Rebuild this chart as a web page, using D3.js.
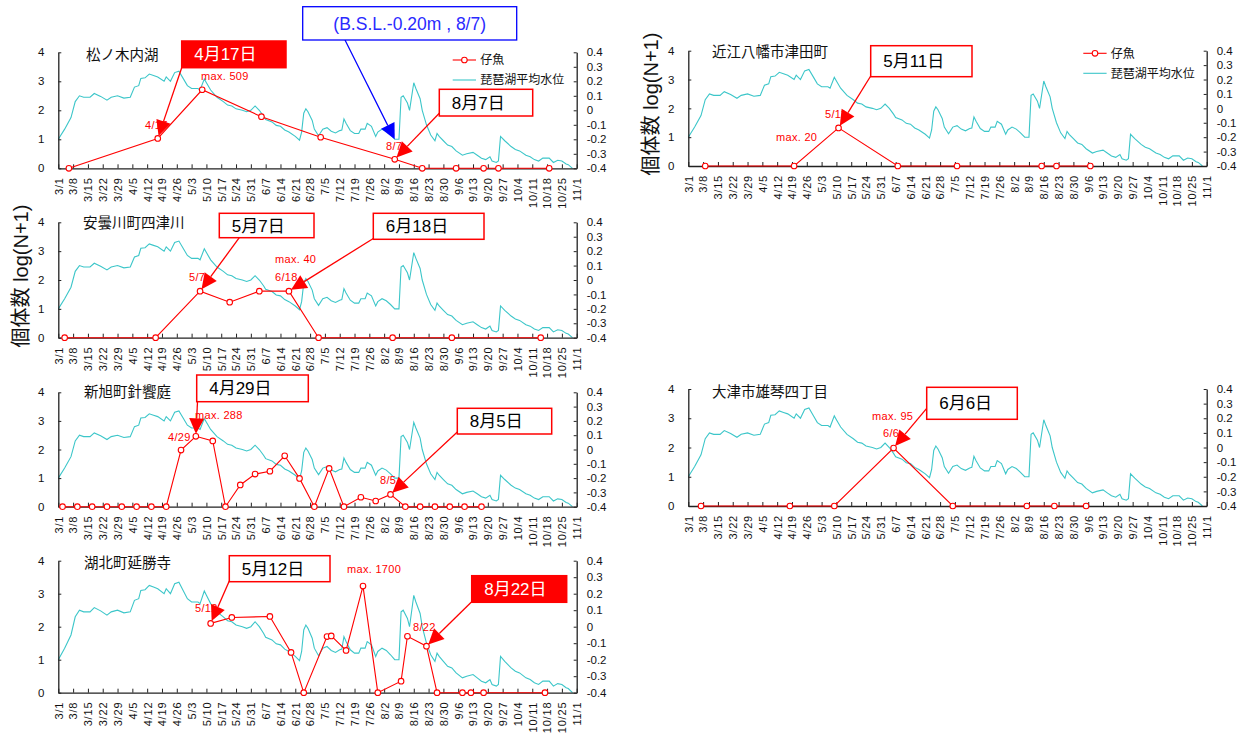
<!DOCTYPE html>
<html>
<head>
<meta charset="utf-8">
<script src="https://cdn.jsdelivr.net/npm/d3@7"></script>
<style>
  body { margin: 0; background: #fff; }
  svg { display: block; font-family: "Liberation Sans", Arial, "Noto Sans CJK JP", sans-serif; }
</style>
</head>
<body>
<svg id="chart" width="1252" height="737"></svg>
<script>
// ---- data -----------------------------------------------------------------
const weekTicks = ["3/1","3/8","3/15","3/22","3/29","4/5","4/12","4/19","4/26","5/3","5/10","5/17","5/24","5/31",
  "6/7","6/14","6/21","6/28","7/5","7/12","7/19","7/26","8/2","8/9","8/16","8/23","8/30","9/6","9/13","9/20",
  "9/27","10/4","10/11","10/18","10/25","11/1"];
const countTicks = [0, 1, 2, 3, 4];
const levelTicks = [-0.4, -0.3, -0.2, -0.1, 0, 0.1, 0.2, 0.3, 0.4];
const seriesNames = ["仔魚", "琵琶湖平均水位"];
const yTitle = "個体数 log(N+1)";
const siteNames = ["松ノ木内湖", "安曇川町四津川", "新旭町針饗庭", "湖北町延勝寺", "近江八幡市津田町", "大津市雄琴四丁目"];
const maxCounts = [509, 40, 288, 1700, 20, 95];

// Lake Biwa mean water level (B.S.L., m)
const waterLevel = [
  ["3/1",-0.20],["3/4",-0.13],["3/7",-0.05],["3/9",0.06],["3/11",0.10],["3/13",0.09],["3/16",0.09],["3/18",0.116],
  ["3/21",0.096],["3/24",0.07],["3/26",0.09],["3/29",0.10],["4/1",0.084],["4/4",0.09],["4/6",0.16],["4/8",0.17],
  ["4/9",0.22],["4/11",0.224],["4/13",0.25],["4/15",0.24],["4/17",0.23],["4/20",0.20],["4/21",0.23],["4/23",0.20],
  ["4/25",0.26],["4/27",0.27],["4/29",0.22],["5/1",0.17],["5/3",0.15],["5/6",0.15],["5/7",0.14],["5/9",0.216],
  ["5/10",0.19],["5/12",0.14],["5/15",0.09],["5/18",0.06],["5/20",0.036],["5/22",0.03],["5/24",0.01],["5/27",0.0],
  ["5/29",-0.01],["5/31",0.0],["6/2",0.03],["6/4",0.0],["6/6",-0.04],["6/7",-0.064],["6/10",-0.08],["6/12",-0.104],
  ["6/14",-0.11],["6/16",-0.136],["6/18",-0.15],["6/21",-0.18],["6/23",-0.206],["6/24",-0.15],["6/25",-0.02],
  ["6/26",0.01],["6/27",-0.01],["6/29",-0.07],["6/30",-0.13],["7/2",-0.176],["7/4",-0.13],["7/6",-0.12],
  ["7/8",-0.144],["7/10",-0.156],["7/12",-0.14],["7/13",-0.136],["7/14",-0.06],["7/15",-0.09],["7/17",-0.14],
  ["7/19",-0.16],["7/21",-0.16],["7/22",-0.13],["7/24",-0.13],["7/25",-0.09],["7/27",-0.11],["7/29",-0.18],
  ["7/30",-0.15],["8/1",-0.13],["8/3",-0.144],["8/5",-0.17],["8/7",-0.20],["8/9",-0.20],["8/10",0.09],["8/11",0.10],
  ["8/13",0.05],["8/14",0.0],["8/16",0.19],["8/17",0.15],["8/19",0.08],["8/20",0.0],["8/22",-0.10],["8/24",-0.17],
  ["8/26",-0.21],["8/27",-0.16],["8/28",-0.18],["8/30",-0.21],["9/1",-0.24],["9/3",-0.25],["9/5",-0.28],
  ["9/8",-0.31],["9/10",-0.30],["9/13",-0.29],["9/15",-0.31],["9/17",-0.33],["9/19",-0.34],["9/21",-0.32],
  ["9/22",-0.35],["9/24",-0.36],["9/25",-0.35],["9/26",-0.18],["9/28",-0.21],["10/1",-0.25],["10/3",-0.27],
  ["10/5",-0.28],["10/8",-0.31],["10/10",-0.32],["10/12",-0.34],["10/14",-0.35],["10/16",-0.33],["10/19",-0.33],
  ["10/21",-0.36],["10/23",-0.345],["10/25",-0.35],["10/27",-0.37],["10/28",-0.375],["10/30",-0.40]
];

// larval fish, log(N+1) per sampling date
const matsunokiLarvae = [["3/6",0],["4/17",1.03],["5/8",2.708],["6/5",1.78],["7/3",1.07],["8/7",0.31],
  ["8/20",0],["9/5",0],["9/18",0],["9/25",0],["10/19",0]];
const adogawaLarvae = [["3/4",0],["4/16",0],["5/7",1.613],["5/21",1.23],["6/4",1.613],["6/18",1.613],
  ["7/2",0],["8/6",0],["9/3",0],["10/15",0]];
const shinasahiLarvae = [["3/3",0],["3/10",0],["3/17",0],["3/24",0],["3/31",0],["4/7",0],["4/14",0],["4/21",0],
  ["4/28",1.98],["5/5",2.461],["5/13",2.30],["5/19",0],["5/26",0.76],["6/2",1.14],["6/9",1.24],["6/16",1.78],
  ["6/23",0.99],["6/30",0],["7/7",1.34],["7/14",0],["7/22",0.33],["7/29",0.20],["8/5",0.43],["8/12",0],
  ["8/19",0],["8/26",0],["9/2",0],["9/9",0],["9/17",0]];
const kohokuLarvae = [["5/12",2.10],["5/22",2.28],["6/9",2.31],["6/19",1.22],["6/25",0],["7/6",1.70],["7/8",1.72],
  ["7/15",1.28],["7/23",3.231],["7/30",0],["8/10",0.35],["8/13",1.71],["8/22",1.41],["8/27",0],["9/8",0],
  ["9/12",0],["9/18",0],["10/17",0]];
const omihachimanLarvae = [["3/9",0],["4/20",0],["5/11",1.322],["6/8",0],["7/6",0],["8/15",0],["8/22",0],["9/7",0]];
const otsuLarvae = [["3/7",0],["4/18",0],["5/9",0],["6/6",1.982],["7/4",0],["8/8",0],["8/21",0],["9/5",0]];

const larvaeBySite = [matsunokiLarvae, adogawaLarvae, shinasahiLarvae, kohokuLarvae, omihachimanLarvae, otsuLarvae];

// ---- layout ---------------------------------------------------------------
const RED = "#ff0000", LEVEL = "#3cc6c9", AXIS = "#222";
const panelFrames = [
  { x0: 58.3,  x1: 576.7,  top: 52.3,  bottom: 168.3, title: [86, 55] },
  { x0: 58.3,  x1: 576.7,  top: 222.3, bottom: 337.7, title: [83, 223] },
  { x0: 58.3,  x1: 576.7,  top: 392.3, bottom: 506.7, title: [84, 392] },
  { x0: 58.3,  x1: 576.7,  top: 560.7, bottom: 692.7, title: [84, 563] },
  { x0: 688.3, x1: 1206.7, top: 50.7,  bottom: 166,   title: [712, 52] },
  { x0: 688.3, x1: 1206.7, top: 389,   bottom: 506,   title: [712, 392] }
];
const legendSpots = [{ panel: 0, x: 452.7, y: 60 }, { panel: 4, x: 1083.3, y: 53.3 }];
const yTitleSpots = [[21, 276], [651, 104]];

const pointNotes = [
  { panel: 0, text: "max. " + maxCounts[0], x: 201, y: 76 },
  { panel: 0, text: "4/17", x: 145, y: 125 },
  { panel: 0, text: "8/7", x: 386, y: 146 },
  { panel: 1, text: "max. " + maxCounts[1], x: 275, y: 259 },
  { panel: 1, text: "6/18", x: 275, y: 277 },
  { panel: 1, text: "5/7", x: 189, y: 277 },
  { panel: 2, text: "max. " + maxCounts[2], x: 195, y: 415 },
  { panel: 2, text: "4/29", x: 168, y: 437 },
  { panel: 2, text: "8/5", x: 380, y: 480 },
  { panel: 3, text: "5/12", x: 195, y: 608 },
  { panel: 3, text: "max. " + maxCounts[3], x: 347, y: 569 },
  { panel: 3, text: "8/22", x: 413, y: 627 },
  { panel: 4, text: "5/11", x: 825, y: 114 },
  { panel: 4, text: "max. " + maxCounts[4], x: 776, y: 137 },
  { panel: 5, text: "max. " + maxCounts[5], x: 872, y: 416 },
  { panel: 5, text: "6/6", x: 883, y: 433 }
];

const callouts = [
  { panel: 0, text: "4月17日", at: "4/17", box: [181.7, 41, 104.3, 26.7], from: [181.7, 67.7], solid: true },
  { panel: 0, text: "8月7日", at: "8/7", box: [439.3, 89.3, 93.4, 26.7], from: [439.3, 113.3] },
  { panel: 1, text: "5月7日", at: "5/7", box: [219.3, 213.3, 94.7, 24.4], from: [239.3, 237.7] },
  { panel: 1, text: "6月18日", at: "6/18", box: [373.3, 213.3, 110.7, 26], from: [373.3, 238.5] },
  { panel: 2, text: "4月29日", at: "5/5", box: [196.7, 375, 111.6, 26.7], from: [197.5, 401.7] },
  { panel: 2, text: "8月5日", at: "8/5", box: [457.3, 408.3, 94.4, 25.7], from: [457.3, 432] },
  { panel: 3, text: "5月12日", at: "5/12", box: [229.3, 555.7, 100.7, 26], from: [229.3, 581] },
  { panel: 3, text: "8月22日", at: "8/22", box: [471.7, 575.7, 95, 26.6], from: [471.7, 601.7], solid: true },
  { panel: 4, text: "5月11日", at: "5/11", box: [870.7, 45.7, 101.3, 31], from: [870.7, 76] },
  { panel: 5, text: "6月6日", at: "6/6", box: [926.7, 387.3, 90.6, 32], from: [926.7, 408.3] }
];
const levelCallout = { panel: 0, text: "(B.S.L.-0.20m , 8/7)", at: "8/7",
  box: [302.7, 6.7, 214, 33.3], from: [345, 40] };

// ---- drawing --------------------------------------------------------------
const parseMD = s => { const [m, d] = s.split("/").map(Number); return new Date(2001, m - 1, d); };
const svg = d3.select("#chart");
const levelFmt = d => d === 0 ? "0" : d3.format(".1f")(d).replace("\u2212", "-");

const scales = panelFrames.map((f, i) => {
  const x = d3.scaleTime()
    .domain([parseMD(weekTicks[0]), parseMD(weekTicks[weekTicks.length - 1])])
    .range([f.x0, f.x1]);
  const yN = d3.scaleLinear().domain([0, 4]).range([f.bottom, f.top]);
  const yL = d3.scaleLinear().domain([-0.4, 0.4]).range([f.bottom, f.top]);
  const g = svg.append("g").attr("class", "panel");

  // water level
  g.append("path").datum(waterLevel)
    .attr("fill", "none").attr("stroke", LEVEL).attr("stroke-width", 1.1)
    .attr("d", d3.line().x(d => x(parseMD(d[0]))).y(d => yL(d[1])));

  // date axis
  const ax = g.append("g").attr("transform", `translate(0,${f.bottom})`)
    .call(d3.axisBottom(x).tickValues(weekTicks.map(parseMD)).tickSize(-4).tickSizeOuter(0)
      .tickFormat((d, j) => weekTicks[j]));
  ax.selectAll("text")
    .attr("transform", "rotate(-90)").attr("text-anchor", "end")
    .attr("x", -9).attr("y", 0).attr("dy", "0.35em")
    .style("letter-spacing", "0.8px");

  // count axis (left)
  const al = g.append("g").attr("transform", `translate(${f.x0},0)`)
    .call(d3.axisLeft(yN).tickValues(countTicks).tickSize(-3).tickSizeOuter(0).tickPadding(14)
      .tickFormat(d3.format("d")));

  // water level axis (right)
  const ar = g.append("g").attr("transform", `translate(${f.x1},0)`)
    .call(d3.axisRight(yL).tickValues(levelTicks).tickSize(-3).tickSizeOuter(0).tickPadding(10)
      .tickFormat(levelFmt));

  [ax, al, ar].forEach(a => {
    a.attr("font-family", null).attr("font-size", 11.5);
    a.selectAll("path.domain").attr("stroke", AXIS).attr("stroke-width", 1.3);
    a.selectAll("line").attr("stroke", AXIS);
    a.selectAll("text").attr("fill", "#111");
  });
  ax.selectAll("text").attr("font-size", 11);

  // site name
  g.append("text").attr("x", f.title[0]).attr("y", f.title[1]).attr("dy", "0.35em")
    .attr("font-size", 14.5).attr("font-family", "'Noto Sans CJK JP', sans-serif").attr("fill", "#111")
    .text(siteNames[i]);

  // red point labels
  pointNotes.filter(p => p.panel === i).forEach(p => {
    g.append("text").attr("x", p.x).attr("y", p.y).attr("dy", "0.35em")
      .attr("font-size", 11).attr("fill", RED).style("letter-spacing", "0.3px").text(p.text);
  });

  // larvae series
  const data = larvaeBySite[i];
  g.append("path").datum(data)
    .attr("fill", "none").attr("stroke", RED).attr("stroke-width", 1.1)
    .attr("d", d3.line().x(d => x(parseMD(d[0]))).y(d => yN(d[1])));
  g.selectAll("circle.pt").data(data).join("circle").attr("class", "pt")
    .attr("cx", d => x(parseMD(d[0]))).attr("cy", d => yN(d[1])).attr("r", 2.8)
    .attr("fill", "#fff").attr("stroke", RED).attr("stroke-width", 1.1);

  return { x, yN, yL, g };
});

// y titles
yTitleSpots.forEach(([tx, ty]) => {
  svg.append("text").attr("transform", `translate(${tx},${ty}) rotate(-90)`)
    .attr("text-anchor", "middle").attr("dy", "0.35em")
    .attr("font-size", 20).attr("fill", "#111").text(yTitle);
});

// legends
legendSpots.forEach(l => {
  const g = svg.append("g");
  g.append("line").attr("x1", l.x).attr("x2", l.x + 23.3).attr("y1", l.y).attr("y2", l.y)
    .attr("stroke", RED).attr("stroke-width", 1.1);
  g.append("circle").attr("cx", l.x + 11.7).attr("cy", l.y).attr("r", 2.8)
    .attr("fill", "#fff").attr("stroke", RED).attr("stroke-width", 1.1);
  g.append("line").attr("x1", l.x).attr("x2", l.x + 23.3).attr("y1", l.y + 20).attr("y2", l.y + 20)
    .attr("stroke", LEVEL).attr("stroke-width", 1.1);
  seriesNames.forEach((n, k) => {
    g.append("text").attr("x", l.x + 27.5).attr("y", l.y + 20 * k).attr("dy", "0.35em")
      .attr("font-size", 12).attr("font-family", "'Noto Sans CJK JP', sans-serif").attr("fill", "#111").text(n);
  });
});

// callout arrows + boxes
function arrow(g, from, to, color, gap) {
  const dx = to[0] - from[0], dy = to[1] - from[1];
  const len = Math.hypot(dx, dy), ux = dx / len, uy = dy / len;
  const tip = [to[0] - ux * gap, to[1] - uy * gap];
  const L = 15.5, W = 7.5;
  const base = [tip[0] - ux * L, tip[1] - uy * L];
  g.append("line").attr("x1", from[0]).attr("y1", from[1]).attr("x2", base[0]).attr("y2", base[1])
    .attr("stroke", color).attr("stroke-width", 1.3);
  g.append("polygon").attr("fill", color).attr("points", [
    tip, [base[0] - uy * W, base[1] + ux * W], [base[0] + uy * W, base[1] - ux * W]
  ].map(p => p.join(",")).join(" "));
}

callouts.forEach(c => {
  const s = scales[c.panel];
  const pt = larvaeBySite[c.panel].find(d => d[0] === c.at);
  const g = svg.append("g");
  arrow(g, c.from, [s.x(parseMD(pt[0])), s.yN(pt[1])], RED, 2.5);
  const [bx, by, bw, bh] = c.box;
  g.append("rect").attr("x", bx).attr("y", by).attr("width", bw).attr("height", bh)
    .attr("fill", c.solid ? RED : "#fff").attr("stroke", RED).attr("stroke-width", 1.5);
  g.append("text").attr("x", bx + 12.5).attr("y", by + bh / 2).attr("dy", "0.36em")
    .attr("font-size", 17).attr("fill", c.solid ? "#fff" : "#000").text(c.text);
});

{
  const c = levelCallout, s = scales[c.panel];
  const pt = waterLevel.find(d => d[0] === c.at);
  const g = svg.append("g");
  arrow(g, c.from, [s.x(parseMD(pt[0])), s.yL(pt[1])], "#0000ff", 0);
  const [bx, by, bw, bh] = c.box;
  g.append("rect").attr("x", bx).attr("y", by).attr("width", bw).attr("height", bh)
    .attr("fill", "#fff").attr("stroke", "#0000ff").attr("stroke-width", 1.3);
  g.append("text").attr("x", bx + bw / 2).attr("y", by + bh / 2).attr("dy", "0.36em")
    .attr("text-anchor", "middle").attr("font-size", 17.5).attr("fill", "#2a2aff").text(c.text);
}
</script>
</body>
</html>
